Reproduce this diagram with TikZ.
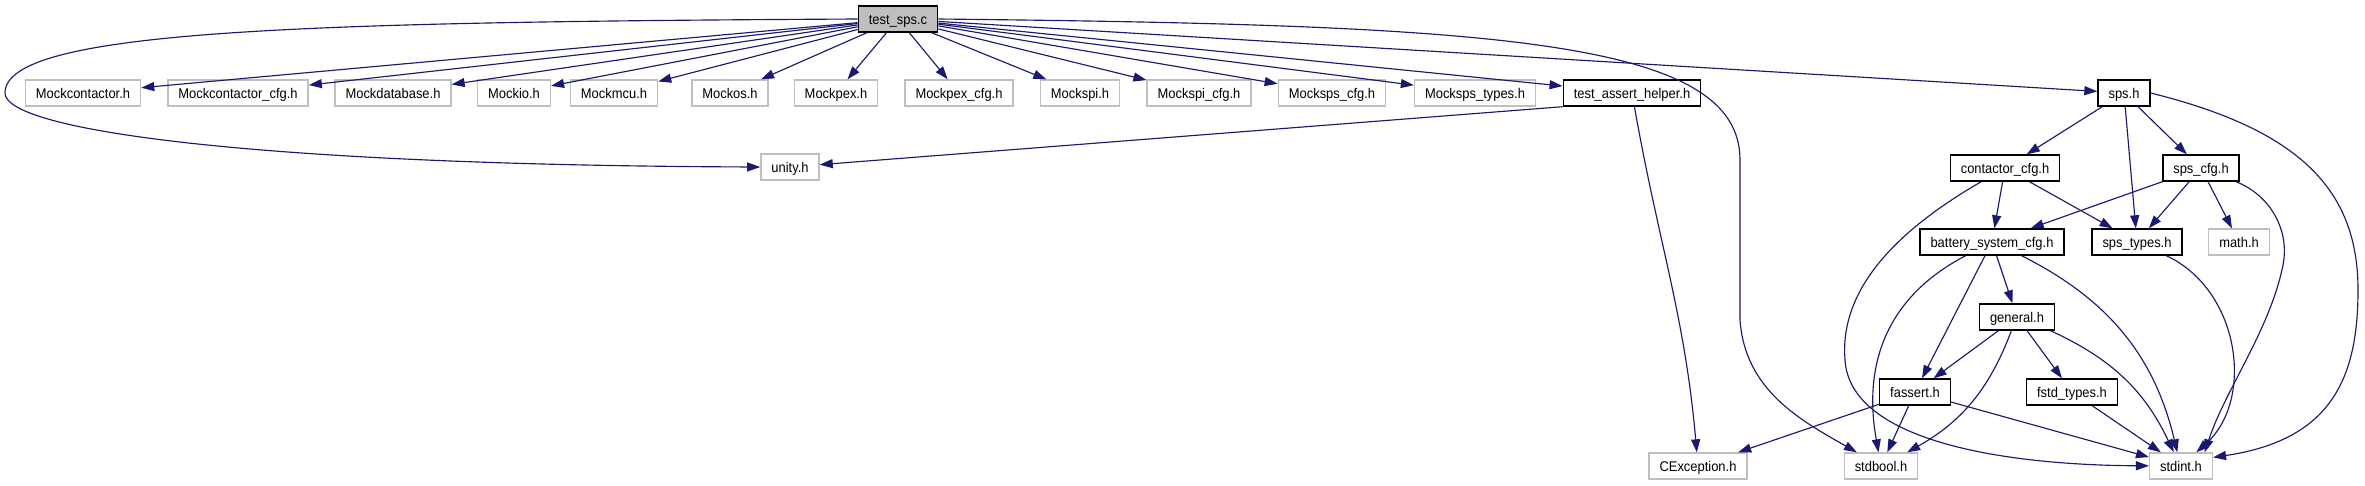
\documentclass[tikz,border=0pt]{standalone}
\usepackage{fontspec}
\setmainfont{Liberation Sans}[FakeStretch=0.92]
\usepackage{tikz}
\usetikzlibrary{arrows.meta}
\definecolor{edgeblue}{HTML}{191970}
\definecolor{boxgrey}{HTML}{BFBFBF}

\begin{document}
\begin{tikzpicture}[
    x=0.2mm, y=0.2mm,
    >={Triangle[length=2.6mm, width=1.8mm]},
    hdr/.style={draw, fill=white, line width=0.8pt, minimum height=5.2mm, inner xsep=2.1mm, inner ysep=0pt,
                text height=1.55ex, text depth=0.3ex, font=\fontsize{8}{9}\selectfont},
    sys/.style={hdr, draw=boxgrey},
    mainfile/.style={hdr, fill=boxgrey},
    dep/.style={->, edgeblue, line width=0.65pt},
]
    \useasboundingbox (0,0) rectangle (2365,-485);

    % file under test
    \node[mainfile] (tsps) at (898,-19) {test\_sps.c};

    % mocks and direct includes
    \node[sys] (mcon)      at (83,-93)   {Mockcontactor.h};
    \node[sys] (mconcfg)   at (238,-93)  {Mockcontactor\_cfg.h};
    \node[sys] (mdb)       at (393,-93)  {Mockdatabase.h};
    \node[sys] (mio)       at (514,-93)  {Mockio.h};
    \node[sys] (mmcu)      at (614,-93)  {Mockmcu.h};
    \node[sys] (mos)       at (730,-93)  {Mockos.h};
    \node[sys] (mpex)      at (836,-93)  {Mockpex.h};
    \node[sys] (mpexcfg)   at (959,-93)  {Mockpex\_cfg.h};
    \node[sys] (mspi)      at (1080,-93) {Mockspi.h};
    \node[sys] (mspicfg)   at (1199,-93) {Mockspi\_cfg.h};
    \node[sys] (mspscfg)   at (1332,-93) {Mocksps\_cfg.h};
    \node[sys] (mspstypes) at (1475,-93) {Mocksps\_types.h};
    \node[hdr] (tah)       at (1632,-93) {test\_assert\_helper.h};
    \node[hdr] (sps)       at (2124,-93) {sps.h};

    % second level
    \node[sys] (unity)  at (790,-167)  {unity.h};
    \node[hdr] (ccfg)   at (2005,-168) {contactor\_cfg.h};
    \node[hdr] (spscfg) at (2201,-168) {sps\_cfg.h};

    % configuration
    \node[hdr] (bsc)      at (1992,-242) {battery\_system\_cfg.h};
    \node[hdr] (spstypes) at (2137,-242) {sps\_types.h};
    \node[sys] (math)     at (2239,-242) {math.h};
    \node[hdr] (general)  at (2017,-317) {general.h};
    \node[hdr] (fassert)  at (1915,-392) {fassert.h};
    \node[hdr] (fstd)     at (2072,-392) {fstd\_types.h};

    % system headers
    \node[sys] (cexc)    at (1698,-466) {CException.h};
    \node[sys] (stdbool) at (1881,-466) {stdbool.h};
    \node[sys] (stdint)  at (2181,-466) {stdint.h};

    % includes of test_sps.c
    \draw[dep] (tsps) -- (mcon);
    \draw[dep] (tsps) -- (mconcfg);
    \draw[dep] (tsps) -- (mdb);
    \draw[dep] (tsps) -- (mio);
    \draw[dep] (tsps) -- (mmcu);
    \draw[dep] (tsps) -- (mos);
    \draw[dep] (tsps) -- (mpex);
    \draw[dep] (tsps) -- (mpexcfg);
    \draw[dep] (tsps) -- (mspi);
    \draw[dep] (tsps) -- (mspicfg);
    \draw[dep] (tsps) -- (mspscfg);
    \draw[dep] (tsps) -- (mspstypes);
    \draw[dep] (tsps) -- (tah);
    \draw[dep] (tsps) -- (sps);
    \draw[dep] (tsps.west) .. controls (300,-22) and (5,-30) .. (5,-93)
        .. controls (5,-130) and (250,-165) .. (unity.west);
    \draw[dep] (tsps.east) .. controls (1500,-25) and (1740,-40) .. (1740,-160) -- (1740,-320)
        .. controls (1745,-390) and (1800,-420) .. (stdbool);

    % test_assert_helper.h
    \draw[dep] (tah.south west) -- (unity);
    \draw[dep] (tah) to[out=-80, in=95] (cexc);

    % sps.h
    \draw[dep] (sps) -- (ccfg);
    \draw[dep] (sps) -- (spstypes);
    \draw[dep] (sps) -- (spscfg);
    \draw[dep] (sps.east) .. controls (2300,-130) and (2358,-190) .. (2358,-290)
        .. controls (2358,-380) and (2330,-440) .. (stdint.15);

    % contactor_cfg.h
    \draw[dep] (ccfg) -- (bsc);
    \draw[dep] (ccfg) -- (spstypes);
    \draw[dep] (ccfg) .. controls (1880,-240) and (1840,-300) .. (1845,-360)
        .. controls (1850,-440) and (2000,-465) .. (stdint);

    % sps_cfg.h
    \draw[dep] (spscfg) -- (bsc);
    \draw[dep] (spscfg) -- (spstypes);
    \draw[dep] (spscfg) -- (math);
    \draw[dep] (spscfg) .. controls (2270,-195) and (2290,-230) .. (2283,-265)
        .. controls (2270,-330) and (2225,-390) .. (stdint.30);

    % battery_system_cfg.h
    \draw[dep] (bsc) -- (general);
    \draw[dep] (bsc) -- (fassert);
    \draw[dep] (bsc) .. controls (1890,-295) and (1862,-360) .. (stdbool);
    \draw[dep] (bsc) to[bend left=25] (stdint);

    % general.h
    \draw[dep] (general) -- (fassert);
    \draw[dep] (general) -- (fstd);
    \draw[dep] (general) to[bend left=20] (stdbool);
    \draw[dep] (general) to[bend left=20] (stdint);

    % fassert.h, fstd_types.h, sps_types.h
    \draw[dep] (fassert) -- (cexc);
    \draw[dep] (fassert) -- (stdbool);
    \draw[dep] (fassert) -- (stdint);
    \draw[dep] (fstd) -- (stdint);
    \draw[dep] (spstypes) .. controls (2240,-290) and (2255,-400) .. (stdint);
\end{tikzpicture}
\end{document}
